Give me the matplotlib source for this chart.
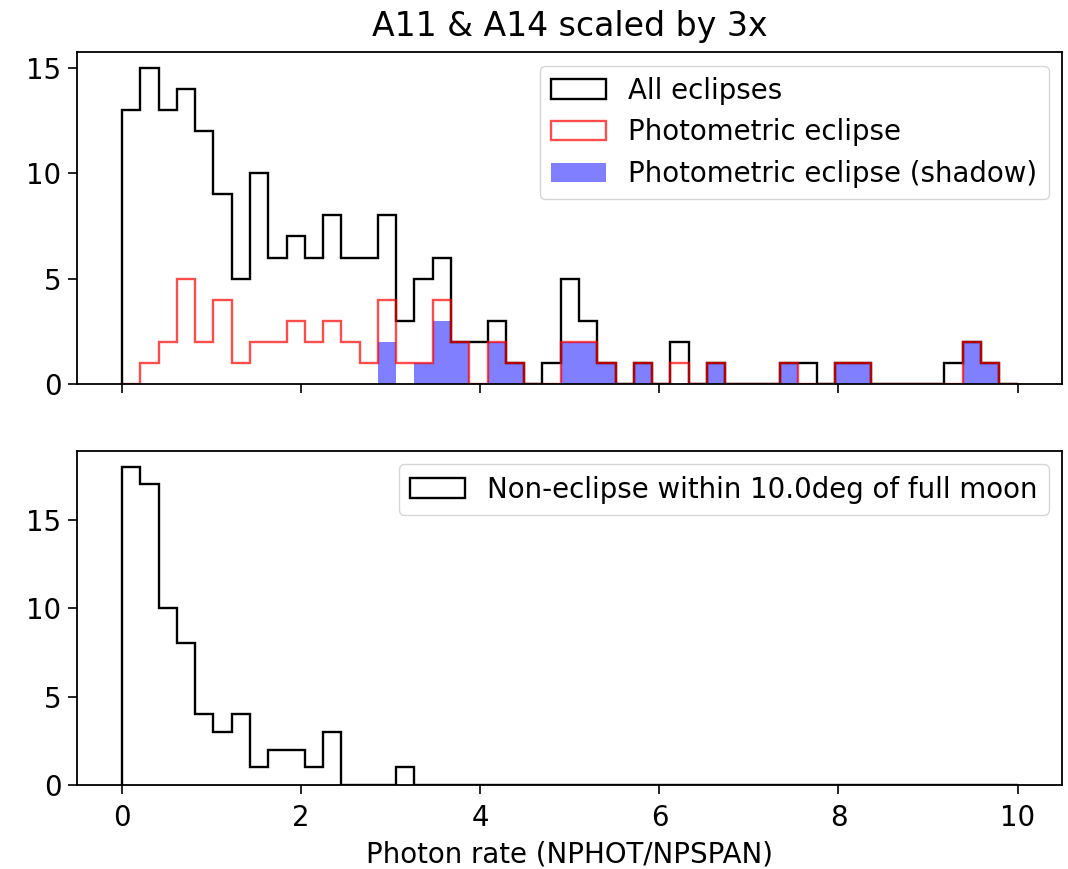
import numpy as np
import matplotlib
matplotlib.use("Agg")
import matplotlib.pyplot as plt
from matplotlib.ticker import MultipleLocator

# histogram bins (photon rate), 49 bins from 0 to 10
bin_edges = np.linspace(0, 10, 50)

# counts, one per bin
all_eclipses = [13, 15, 13, 14, 12, 9, 5, 10, 6, 7, 6, 8, 6, 6, 8, 3, 5, 6, 2, 2,
                3, 1, 0, 1, 5, 3, 1, 0, 1, 0, 2, 0, 1, 0, 0, 0, 1, 1, 0, 1,
                1, 0, 0, 0, 0, 1, 2, 1, 0]
photometric = [0, 1, 2, 5, 2, 4, 1, 2, 2, 3, 2, 3, 2, 1, 4, 1, 1, 4, 2, 0,
               2, 1, 0, 0, 2, 2, 1, 0, 1, 0, 1, 0, 1, 0, 0, 0, 1, 0, 0, 1,
               1, 0, 0, 0, 0, 0, 2, 1, 0]
photometric_shadow = [0, 0, 0, 0, 0, 0, 0, 0, 0, 0, 0, 0, 0, 0, 2, 0, 1, 3, 2, 0,
                      2, 1, 0, 0, 2, 2, 1, 0, 1, 0, 0, 0, 1, 0, 0, 0, 1, 0, 0, 1,
                      1, 0, 0, 0, 0, 0, 2, 1, 0]
non_eclipse = [18, 17, 10, 8, 4, 3, 4, 1, 2, 2, 1, 3, 0, 0, 0, 1, 0, 0, 0, 0,
               0, 0, 0, 0, 0, 0, 0, 0, 0, 0, 0, 0, 0, 0, 0, 0, 0, 0, 0, 0,
               0, 0, 0, 0, 0, 0, 0, 0, 0]

moon_deg = 10.0
scale = 3

plt.rcParams['font.size'] = 19.9
plt.rcParams['axes.linewidth'] = 1.3
plt.rcParams['xtick.major.size'] = 6.5
plt.rcParams['ytick.major.size'] = 6.5
plt.rcParams['xtick.major.width'] = 1.2
plt.rcParams['ytick.major.width'] = 1.2
plt.rcParams['xtick.major.pad'] = 7
plt.rcParams['ytick.major.pad'] = 5

centers = 0.5 * (bin_edges[:-1] + bin_edges[1:])

fig = plt.figure(figsize=(10.68, 8.69), dpi=100)
ax1 = fig.add_axes([0.0724, 0.5578, 0.9223, 0.3827])
ax2 = fig.add_axes([0.0724, 0.0967, 0.9223, 0.3847], sharex=ax1)

# top: eclipses
ax1.hist(centers, bins=bin_edges, weights=all_eclipses, histtype='step',
         color='k', lw=1.7, label="All eclipses")
ax1.hist(centers, bins=bin_edges, weights=photometric, histtype='step',
         color='r', alpha=0.7, lw=1.7, label="Photometric eclipse")
ax1.hist(centers, bins=bin_edges, weights=photometric_shadow, histtype='stepfilled',
         color='b', alpha=0.5, label="Photometric eclipse (shadow)")
ax1.set_title("A11 & A14 scaled by %dx" % scale, pad=11)
ax1.legend(loc='upper right')
ax1.yaxis.set_major_locator(MultipleLocator(5))
plt.setp(ax1.get_xticklabels(), visible=False)

# bottom: non-eclipse
ax2.hist(centers, bins=bin_edges, weights=non_eclipse, histtype='step',
         color='k', lw=1.7,
         label="Non-eclipse within %.1fdeg of full moon" % moon_deg)
ax2.legend(loc='upper right')
ax2.set_xlabel("Photon rate (NPHOT/NPSPAN)", labelpad=6)
ax2.set_xticks([0, 2, 4, 6, 8, 10])
ax2.yaxis.set_major_locator(MultipleLocator(5))

fig.savefig("out.png", dpi=100)
